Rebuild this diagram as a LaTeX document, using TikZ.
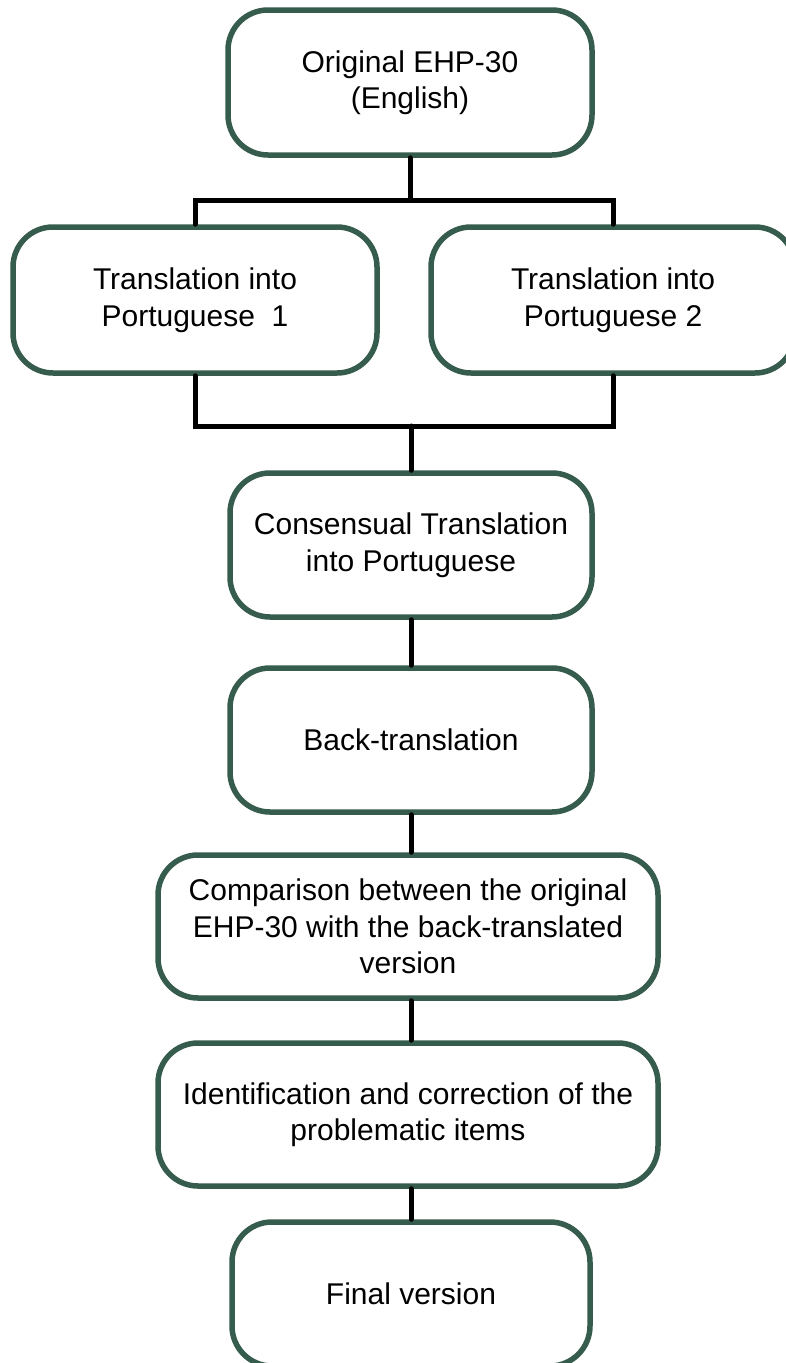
\documentclass[tikz,border=0pt]{standalone}
\usepackage{fontspec}
\setmainfont{Liberation Sans}
\definecolor{boxgreen}{RGB}{54,92,78}
\begin{document}
\begin{tikzpicture}[x=1pt,y=-1pt,
  stepbox/.style={draw=boxgreen, line width=5.5pt, rounded corners=40pt, fill=white,
    align=center, inner sep=0pt, font=\fontsize{30}{36.5}\selectfont},
  link/.style={line width=5pt, black, line cap=round}]
\useasboundingbox (0,0) rectangle (786,1363);
\node[stepbox, minimum width=364pt, minimum height=145pt] (orig) at (410,82.5) {Original EHP-30\\(English)};
\node[stepbox, minimum width=364pt, minimum height=146pt] (tr1) at (195,300) {Translation into\\Portuguese\ \ 1};
\node[stepbox, minimum width=364pt, minimum height=146pt] (tr2) at (613,300) {Translation into\\Portuguese 2};
\node[stepbox, minimum width=362pt, minimum height=144pt] (cons) at (411,545) {Consensual Translation\\into Portuguese};
\node[stepbox, minimum width=362pt, minimum height=144pt] (back) at (411,740) {Back-translation};
\node[stepbox, minimum width=500pt, minimum height=143pt] (comp) at (408,926.5) {Comparison between the original\\EHP-30 with the back-translated\\version};
\node[stepbox, minimum width=500pt, minimum height=143pt] (ident) at (408,1114.5) {Identification and correction of the\\problematic items};
\node[stepbox, minimum width=358pt, minimum height=144pt] (final) at (411,1294) {Final version};
\coordinate (j1) at (410,200);
\coordinate (j2) at (411,426);
\draw[link] (orig.south) -- (j1);
\draw[link] (tr1.north) |- (j1) -| (tr2.north);
\draw[link] (tr1.south) |- (j2) -| (tr2.south);
\draw[link] (j2) -- (cons.north);
\draw[link] (cons.south) -- (back.north);
\draw[link] (back.south) -- (back.south |- comp.north);
\draw[link] (back.south |- comp.south) -- (back.south |- ident.north);
\draw[link] (back.south |- ident.south) -- (final.north);
\end{tikzpicture}
\end{document}
